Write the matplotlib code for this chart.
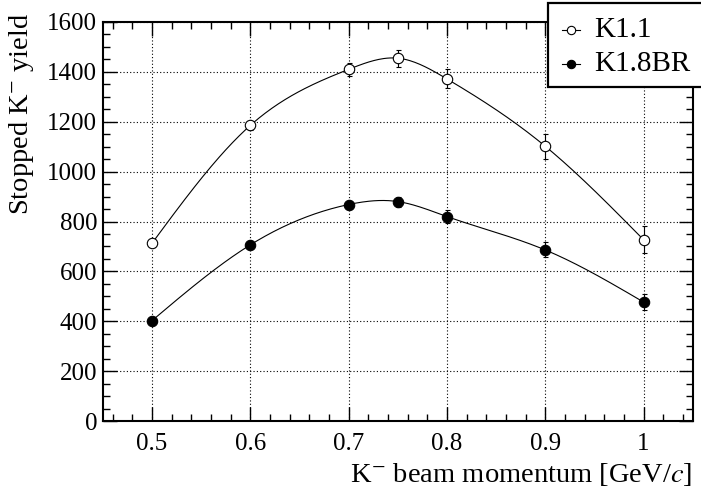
import numpy as np
import matplotlib.pyplot as plt
from matplotlib.lines import Line2D
from matplotlib.patches import Rectangle
from matplotlib.ticker import MultipleLocator

plt.rcParams["font.family"] = ["Liberation Serif", "DejaVu Serif"]
plt.rcParams["mathtext.fontset"] = "stix"

# data
momentum = [0.5, 0.6, 0.7, 0.75, 0.8, 0.9, 1.0]
k11_yield = [712, 1185, 1410, 1455, 1372, 1102, 727]
k11_err = [14, 18, 25, 34, 38, 50, 53]
k18br_yield = [402, 706, 868, 880, 820, 686, 477]
k18br_err = [10, 12, 16, 20, 25, 30, 32]
series_names = ["K1.1", "K1.8BR"]
xtick_vals = [0.5, 0.6, 0.7, 0.8, 0.9, 1.0]
xtick_labels = ["0.5", "0.6", "0.7", "0.8", "0.9", "1"]
ytick_vals = [0, 200, 400, 600, 800, 1000, 1200, 1400, 1600]


def natural_spline(x, y, n=300):
    x = np.asarray(x, float)
    y = np.asarray(y, float)
    m = len(x)
    h = np.diff(x)
    A = np.zeros((m, m))
    r = np.zeros(m)
    A[0, 0] = A[-1, -1] = 1
    for i in range(1, m - 1):
        A[i, i - 1] = h[i - 1]
        A[i, i] = 2 * (h[i - 1] + h[i])
        A[i, i + 1] = h[i]
        r[i] = 6 * ((y[i + 1] - y[i]) / h[i] - (y[i] - y[i - 1]) / h[i - 1])
    M = np.linalg.solve(A, r)
    xs = np.linspace(x[0], x[-1], n)
    ys = np.empty_like(xs)
    for k, xv in enumerate(xs):
        i = min(np.searchsorted(x, xv, side="right") - 1, m - 2)
        t1 = x[i + 1] - xv
        t0 = xv - x[i]
        ys[k] = (M[i] * t1**3 + M[i + 1] * t0**3) / (6 * h[i]) \
            + (y[i] / h[i] - M[i] * h[i] / 6) * t1 \
            + (y[i + 1] / h[i] - M[i + 1] * h[i] / 6) * t0
    return xs, ys


W, H = 701, 487
fig = plt.figure(figsize=(W / 100, H / 100), dpi=100)
ax = fig.add_axes([102.7 / W, 1 - 421 / H, 590 / W, 399 / H])

for yv, ye, face in [(k11_yield, k11_err, "white"), (k18br_yield, k18br_err, "black")]:
    xs, ys = natural_spline(momentum, yv)
    ax.plot(xs, ys, color="black", lw=0.8, zorder=2)
    ax.errorbar(momentum, yv, yerr=ye, fmt="o", ms=7.5, mfc=face, mec="black",
                mew=0.8, ecolor="black", elinewidth=0.8, capsize=1.8, zorder=3)

ax.set_xlim(0.45, 1.05)
ax.set_ylim(0, 1600)
ax.set_xticks(xtick_vals)
ax.set_xticklabels(xtick_labels)
ax.set_yticks(ytick_vals)
ax.xaxis.set_minor_locator(MultipleLocator(0.02))
ax.yaxis.set_minor_locator(MultipleLocator(50))
ax.tick_params(which="both", direction="in", top=True, right=True, labelsize=18, width=1)
ax.tick_params(which="major", length=10)
ax.tick_params(which="minor", length=5)
ax.tick_params(axis="x", pad=9)
ax.tick_params(axis="y", pad=4)
ax.grid(True, which="major", color="black", ls=(0, (1, 2)), lw=0.8)
for s in ax.spines.values():
    s.set_linewidth(1.5)

fig.text(28 / W, 1 - 13 / H, "Stopped K$^{-}$ yield", rotation=90,
         rotation_mode="anchor", ha="right", va="baseline", fontsize=20.5)
fig.text(692 / W, 1 - 482 / H, "K$^{-}$ beam momentum [GeV/$c$]",
         ha="right", va="baseline", fontsize=20.5)

# legend box
fig.add_artist(Rectangle((548 / W, 1 - 87 / H), 160 / W, 84 / H,
                         transform=fig.transFigure, fc="white", ec="black", lw=1.6))
for row, (name, face) in enumerate(zip(series_names, ["white", "black"])):
    yc = 1 - (30 + 34 * row) / H
    fig.add_artist(Line2D([562 / W, 580 / W], [yc, yc], transform=fig.transFigure,
                          color="black", lw=0.8))
    fig.add_artist(Line2D([571 / W], [yc], transform=fig.transFigure, marker="o",
                          ms=6, mfc=face, mec="black", mew=0.8))
    fig.text(594 / W, yc, name, ha="left", va="center", fontsize=21)

fig.savefig("out.png", dpi=100)
